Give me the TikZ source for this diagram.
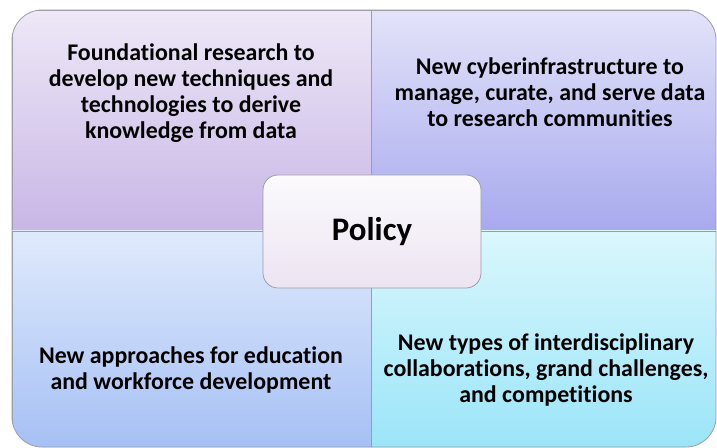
\documentclass[tikz,border=0pt]{standalone}
\usepackage{fontspec}
\setmainfont{Carlito}[Ligatures=NoCommon]
\usepackage{tikz}
\usetikzlibrary{shapes,backgrounds}
\definecolor{tlTop}{HTML}{EEE8F7}
\definecolor{tlBot}{HTML}{C8B6E6}
\definecolor{trTop}{HTML}{E3E3F9}
\definecolor{trBot}{HTML}{A7A9EE}
\definecolor{blTop}{HTML}{DFEAFC}
\definecolor{blBot}{HTML}{A6C0F5}
\definecolor{brTop}{HTML}{DAF7FD}
\definecolor{brBot}{HTML}{9BE5F8}
\definecolor{polTop}{HTML}{FCFAFD}
\definecolor{polBot}{HTML}{ECE4F2}
\definecolor{edge}{HTML}{9C9CA6}
\tikzstyle{quad}=[draw=edge,line width=0.8bp]
\tikzstyle{qtext}=[align=center,font=\fontsize{24}{26}\selectfont\bfseries,text=black]
\tikzstyle{polbox}=[rectangle,rounded corners=15bp,draw=edge,line width=0.8bp,
top color=polTop,bottom color=polBot,minimum width=218bp,minimum height=113bp,
font=\fontsize{33}{38}\selectfont\bfseries]

\begin{document}
\begin{tikzpicture}[x=1bp,y=-1bp]
\useasboundingbox (0,0) rectangle (717,448);
\begin{scope}
\clip[rounded corners=30bp] (12,10) rectangle (716,447);
\path[quad,top color=tlTop,bottom color=tlBot] (12,10) rectangle (371,231);
\path[quad,top color=trTop,bottom color=trBot] (371,10) rectangle (716,231);
\path[quad,top color=blTop,bottom color=blBot] (12,231) rectangle (371,447);
\path[quad,top color=brTop,bottom color=brBot] (371,231) rectangle (716,447);
\end{scope}
\draw[quad,rounded corners=30bp] (12,10) rectangle (716,447);
\node[qtext] (research) at (191,93) {Foundational research to\\develop new techniques and\\technologies to derive\\knowledge from data};
\node[qtext] (cyber) at (550,92) {New cyberinfrastructure to\\manage, curate, and serve data\\to research communities};
\node[qtext] (educ) at (191,370) {New approaches for education\\and workforce development};
\node[qtext] (collab) at (546,370) {New types of interdisciplinary\\collaborations, grand challenges,\\and competitions};
\node[polbox] (policy) at (372,231.5) {Policy};
\end{tikzpicture}
\end{document}
